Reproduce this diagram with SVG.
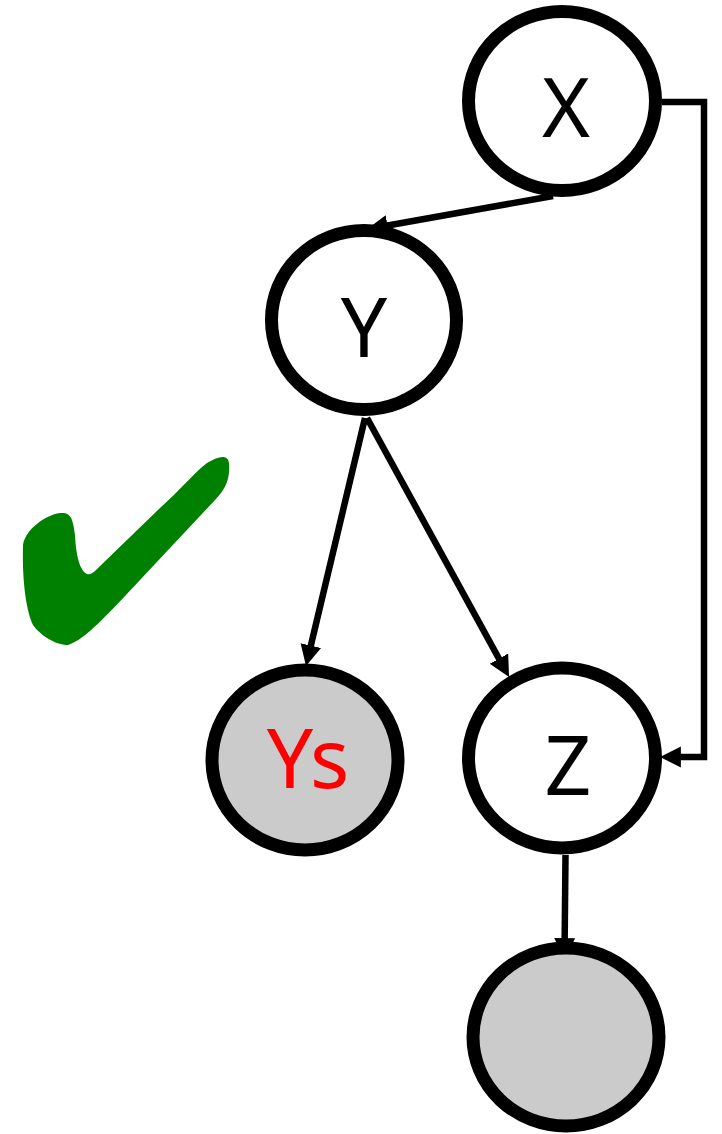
<svg xmlns="http://www.w3.org/2000/svg" width="722" height="1134" viewBox="0 0 722 1134">
  <style>
    .node { stroke: #000; stroke-width: 13; }
    .plain { fill: #fff; }
    .obs { fill: #cbcbcb; }
    .label { font-family: "Noto Sans", "Open Sans", sans-serif; font-size: 82px; text-anchor: middle; fill: #000; }
    .edge { fill: none; stroke: #000; stroke-width: 6.5; }
  </style>
  <defs>
    <marker id="arrow" viewBox="0 0 10 10" refX="4" refY="5" markerUnits="userSpaceOnUse" markerWidth="21" markerHeight="23" orient="auto">
      <path d="M0,0 L10,5 L0,10 z" fill="#000"/>
    </marker>
  </defs>

  <rect width="722" height="1134" fill="#fff"/>

  <!-- check mark -->
  <path id="check" fill="#008000" d="M 87 574 C 80 571 76 556 75 535 C 73 517 70 512 60 513 C 45 515 25 530 23 545 C 22 580 26 610 33 625 C 40 635 55 645 68 645 C 85 640 110 612 140 580 L 215 500 C 228 487 230 475 229 463 C 228 455 220 455 207 463 C 195 472 180 490 160 508 L 96 570 C 92 574 89 575 87 574 Z"/>

  <g id="connectors">
    <line class="edge" x1="553" y1="196" x2="379.3" y2="227" marker-end="url(#arrow)"/>
    <line class="edge" x1="365" y1="418" x2="308.9" y2="653.8" marker-end="url(#arrow)"/>
    <line class="edge" x1="367" y1="418" x2="503" y2="666" marker-end="url(#arrow)"/>
    <path class="edge" d="M662,102 H704 V757 H672.5" marker-end="url(#arrow)"/>
    <line class="edge" x1="565.5" y1="855" x2="564.6" y2="946.5" marker-end="url(#arrow)"/>
  </g>

  <g id="node-X">
    <ellipse class="node plain" cx="562" cy="101" rx="93.5" ry="89.5"/>
    <text class="label" x="566" y="137">X</text>
  </g>
  <g id="node-Y">
    <ellipse class="node plain" cx="364" cy="320" rx="92.5" ry="89.5"/>
    <text class="label" x="364" y="357">Y</text>
  </g>
  <g id="node-Ys">
    <ellipse class="node obs" cx="305" cy="760" rx="93" ry="90"/>
    <text class="label" x="308" y="788" style="fill:#ff0000">Ys</text>
  </g>
  <g id="node-Z">
    <ellipse class="node plain" cx="562" cy="758" rx="93.5" ry="90"/>
    <text class="label" x="568" y="795">Z</text>
  </g>
  <g id="node-bottom">
    <ellipse class="node obs" cx="566" cy="1037" rx="93" ry="89"/>
  </g>
</svg>
